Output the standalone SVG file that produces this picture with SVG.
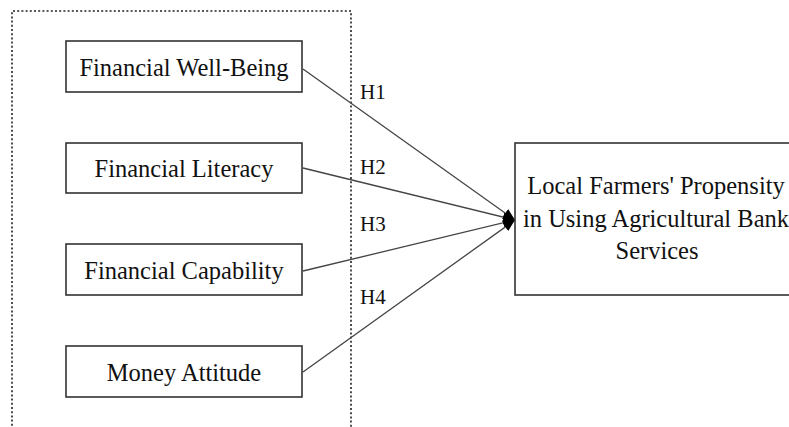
<svg xmlns="http://www.w3.org/2000/svg" width="789" height="427" viewBox="0 0 789 427">
<style>
.box{fill:#fff;stroke:#333;stroke-width:1.6}
.lbl{font-family:"Liberation Serif","Times New Roman",serif;font-size:24.5px;fill:#111;text-anchor:middle}
.h{font-family:"Liberation Serif","Times New Roman",serif;font-size:21px;fill:#111}
.conn{stroke:#444;stroke-width:1.3;fill:none;marker-end:url(#arr)}
.frame{fill:none;stroke:#222;stroke-width:1.6;stroke-dasharray:2 2.2}
</style>
<defs>
<marker id="arr" viewBox="0 0 12 10" refX="12" refY="5" markerWidth="12" markerHeight="10" markerUnits="userSpaceOnUse" orient="auto">
<path d="M0,0 L12,5 L0,10 Z" fill="#000"/>
</marker>
</defs>
<rect width="789" height="427" fill="#fff"/>
<path class="frame" d="M12,430 L12,11 L351,11 L351,430"/>
<g id="n1"><rect class="box" x="66" y="41" width="236" height="51"/><text class="lbl" x="184" y="76">Financial Well-Being</text></g>
<g id="n2"><rect class="box" x="66" y="143" width="236" height="50"/><text class="lbl" x="184" y="177">Financial Literacy</text></g>
<g id="n3"><rect class="box" x="66" y="244" width="236" height="51"/><text class="lbl" x="184" y="279">Financial Capability</text></g>
<g id="n4"><rect class="box" x="66" y="346" width="236" height="51"/><text class="lbl" x="184" y="381">Money Attitude</text></g>
<g id="n5"><rect class="box" x="515" y="143" width="285" height="152"/>
<text class="lbl" x="656" y="194">Local Farmers' Propensity</text>
<text class="lbl" x="656" y="227">in Using Agricultural Bank</text>
<text class="lbl" x="657" y="259">Services</text></g>
<g id="connectors">
<path class="conn" d="M303,69 L515,220"/>
<path class="conn" d="M303,168 L515,220"/>
<path class="conn" d="M303,271 L515,220"/>
<path class="conn" d="M303,372 L515,220"/>
<text class="h" x="360" y="99">H1</text>
<text class="h" x="360" y="174">H2</text>
<text class="h" x="360" y="231">H3</text>
<text class="h" x="360" y="304">H4</text>
</g>
</svg>
